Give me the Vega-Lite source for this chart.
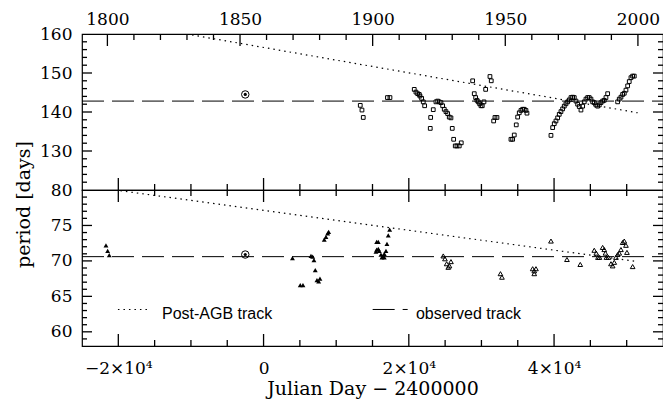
{
  "$schema": "https://vega.github.io/schema/vega-lite/v6.json",
  "padding": {"left": 13, "top": 9, "right": 0, "bottom": 0},
  "spacing": 0,
  "bounds": "flush",
  "background": "white",
  "config": {
    "view": {"stroke": "black", "strokeWidth": 1.2},
    "tick": {"thickness": 1.3, "color": "black", "opacity": 1},
    "axis": {"domain": false, "grid": false, "ticks": false, "labelFont": "DejaVu Serif", "labelFontSize": 17, "labelColor": "black", "titleFont": "DejaVu Serif", "titleFontSize": 19, "titleFontWeight": "normal", "titleColor": "black", "labelOverlap": false, "labelFlush": false}
  },
  "datasets": {
    "squares": [
      {"jd":13315,"p":141.7},{"jd":13549,"p":140.5},{"jd":13728,"p":138.6},{"jd":17060,"p":143.7},{"jd":17404,"p":143.7},
      {"jd":20750,"p":145.8},{"jd":20984,"p":145.1},{"jd":21218,"p":144.7},{"jd":21438,"p":144.5},{"jd":21535,"p":144.1},
      {"jd":21769,"p":143.5},{"jd":21989,"p":142.6},{"jd":22182,"p":141.6},{"jd":22953,"p":135.8},{"jd":23008,"p":138.6},
      {"jd":23366,"p":140.6},{"jd":23738,"p":142.6},{"jd":23972,"p":142.8},{"jd":24192,"p":142.6},{"jd":24426,"p":142.4},
      {"jd":24660,"p":141.6},{"jd":24881,"p":140.7},{"jd":25115,"p":140.1},{"jd":25349,"p":139.6},{"jd":25569,"p":138.7},
      {"jd":25803,"p":138.5},{"jd":25982,"p":135.8},{"jd":26175,"p":133.0},{"jd":26395,"p":131.3},{"jd":26629,"p":131.3},
      {"jd":26946,"p":131.3},{"jd":27221,"p":132.1},{"jd":28791,"p":148.0},{"jd":29011,"p":144.7},{"jd":29204,"p":143.7},
      {"jd":29383,"p":143.0},{"jd":29562,"p":142.6},{"jd":29755,"p":142.1},{"jd":29934,"p":141.6},{"jd":30113,"p":141.6},
      {"jd":30347,"p":142.6},{"jd":30581,"p":145.8},{"jd":31173,"p":149.1},{"jd":31352,"p":148.0},{"jd":31683,"p":137.7},
      {"jd":31862,"p":138.6},{"jd":32137,"p":138.6},{"jd":34065,"p":133.0},{"jd":34298,"p":133.0},{"jd":34519,"p":134.1},
      {"jd":34795,"p":136.7},{"jd":34987,"p":138.7},{"jd":35208,"p":139.8},{"jd":35442,"p":140.4},{"jd":35676,"p":140.7},
      {"jd":35896,"p":140.7},{"jd":36130,"p":140.4},{"jd":36268,"p":139.7},{"jd":39573,"p":134.0},{"jd":39806,"p":136.0},
      {"jd":40027,"p":137.0},{"jd":40261,"p":137.7},{"jd":40495,"p":138.5},{"jd":40715,"p":139.4},{"jd":40949,"p":140.1},
      {"jd":41183,"p":140.8},{"jd":41404,"p":141.5},{"jd":41638,"p":142.1},{"jd":41872,"p":142.6},{"jd":42092,"p":143.1},
      {"jd":42326,"p":143.7},{"jd":42560,"p":143.8},{"jd":42781,"p":143.7},{"jd":43015,"p":142.8},{"jd":43249,"p":142.0},
      {"jd":43469,"p":141.4},{"jd":43703,"p":140.5},{"jd":43937,"p":141.5},{"jd":44158,"p":142.6},{"jd":44392,"p":143.3},
      {"jd":44626,"p":143.7},{"jd":44846,"p":143.7},{"jd":45080,"p":143.3},{"jd":45314,"p":142.6},{"jd":45535,"p":142.4},
      {"jd":45769,"p":141.8},{"jd":46003,"p":141.5},{"jd":46223,"p":141.8},{"jd":46457,"p":142.4},{"jd":46691,"p":142.8},
      {"jd":46911,"p":143.0},{"jd":47145,"p":143.7},{"jd":47379,"p":144.7},{"jd":48756,"p":142.6},{"jd":48976,"p":143.3},
      {"jd":49210,"p":143.8},{"jd":49444,"p":144.5},{"jd":49665,"p":144.8},{"jd":49899,"p":145.6},{"jd":50133,"p":146.7},
      {"jd":50353,"p":147.8},{"jd":50587,"p":148.8},{"jd":50821,"p":149.2},{"jd":51042,"p":149.2}
    ],
    "filled": [
      {"jd":-21700,"p":72.2},{"jd":-21466,"p":71.4},{"jd":-21246,"p":70.8},{"jd":3979,"p":70.4},{"jd":5053,"p":66.6},
      {"jd":5425,"p":66.6},{"jd":6527,"p":70.7},{"jd":6761,"p":70.6},{"jd":6940,"p":70.1},{"jd":7119,"p":68.7},
      {"jd":7353,"p":67.3},{"jd":7587,"p":67.1},{"jd":7766,"p":67.5},{"jd":8358,"p":73.0},{"jd":8592,"p":73.4},
      {"jd":8826,"p":73.9},{"jd":8964,"p":74.1},{"jd":15573,"p":72.7},{"jd":15793,"p":72.7},{"jd":15573,"p":71.6},
      {"jd":15793,"p":71.7},{"jd":15931,"p":71.4},{"jd":15476,"p":71.3},{"jd":16165,"p":70.9},{"jd":16399,"p":70.6},
      {"jd":16303,"p":70.5},{"jd":16619,"p":70.5},{"jd":16619,"p":71.0},{"jd":16853,"p":71.4},{"jd":16991,"p":72.4},
      {"jd":17170,"p":73.6},{"jd":17363,"p":74.4}
    ],
    "open": [
      {"jd":24743,"p":70.7},{"jd":24977,"p":70.3},{"jd":25211,"p":69.6},{"jd":25431,"p":69.1},{"jd":25596,"p":69.3},
      {"jd":25803,"p":69.9},{"jd":32619,"p":68.2},{"jd":32825,"p":67.7},{"jd":37053,"p":68.9},{"jd":37273,"p":68.6},
      {"jd":37507,"p":68.9},{"jd":37273,"p":68.2},{"jd":39573,"p":72.8},{"jd":41776,"p":70.2},{"jd":43607,"p":69.5},
      {"jd":45535,"p":71.5},{"jd":45810,"p":71.1},{"jd":46044,"p":70.5},{"jd":46250,"p":70.5},{"jd":46691,"p":71.9},
      {"jd":46911,"p":71.6},{"jd":47076,"p":71.1},{"jd":47214,"p":70.5},{"jd":47490,"p":70.5},{"jd":47834,"p":69.6},
      {"jd":48068,"p":69.3},{"jd":48288,"p":69.8},{"jd":48522,"p":70.5},{"jd":48756,"p":70.9},{"jd":48976,"p":71.1},
      {"jd":49210,"p":71.6},{"jd":49444,"p":72.6},{"jd":49665,"p":72.8},{"jd":49899,"p":72.2},{"jd":50037,"p":71.2},
      {"jd":50821,"p":69.2}
    ],
    "tracks": [
      {"panel":"top","track":"post","seg":"a","jd":-10590,"p":160},
      {"panel":"top","track":"post","seg":"a","jd":51510,"p":139.8},
      {"panel":"top","track":"obs","seg":"a","jd":-25000,"p":142.8},
      {"panel":"top","track":"obs","seg":"a","jd":55000,"p":142.8},
      {"panel":"bottom","track":"post","seg":"a","jd":-20460,"p":80},
      {"panel":"bottom","track":"post","seg":"a","jd":51510,"p":69.9},
      {"panel":"bottom","track":"obs","seg":"a","jd":-25000,"p":70.6},
      {"panel":"bottom","track":"obs","seg":"a","jd":55000,"p":70.6},
      {"panel":"bottom","track":"post","seg":"key","jd":-20050,"p":63.15},
      {"panel":"bottom","track":"post","seg":"key","jd":-15780,"p":63.15},
      {"panel":"bottom","track":"obs","seg":"key","jd":15022,"p":63.15},
      {"panel":"bottom","track":"obs","seg":"key","jd":19841,"p":63.15}
    ],
    "sun": [
      {"panel":"top","jd":-2520,"p":144.5},
      {"panel":"bottom","jd":-2520,"p":70.9}
    ],
    "keytext": [
      {"jd":-13990,"p":61.8,"label":"Post-AGB track"},
      {"jd":20984,"p":61.8,"label":"observed track"}
    ],
    "jdticks": [
      {"jd":-20000,"kind":"major"},{"jd":-15000,"kind":"minor"},{"jd":-10000,"kind":"minor"},{"jd":-5000,"kind":"minor"},
      {"jd":0,"kind":"major"},{"jd":5000,"kind":"minor"},{"jd":10000,"kind":"minor"},{"jd":15000,"kind":"minor"},
      {"jd":20000,"kind":"major"},{"jd":25000,"kind":"minor"},{"jd":30000,"kind":"minor"},{"jd":35000,"kind":"minor"},
      {"jd":40000,"kind":"major"},{"jd":45000,"kind":"minor"},{"jd":50000,"kind":"minor"}
    ],
    "yearticks": [
      {"year":1800,"jd":-21503.7,"kind":"major"},{"year":1810,"jd":-17851.2,"kind":"minor"},{"year":1820,"jd":-14198.7,"kind":"minor"},
      {"year":1830,"jd":-10546.2,"kind":"minor"},{"year":1840,"jd":-6893.7,"kind":"minor"},{"year":1850,"jd":-3241.2,"kind":"major"},
      {"year":1860,"jd":411.3,"kind":"minor"},{"year":1870,"jd":4063.8,"kind":"minor"},{"year":1880,"jd":7716.3,"kind":"minor"},
      {"year":1890,"jd":11368.8,"kind":"minor"},{"year":1900,"jd":15021.3,"kind":"major"},{"year":1910,"jd":18673.8,"kind":"minor"},
      {"year":1920,"jd":22326.3,"kind":"minor"},{"year":1930,"jd":25978.8,"kind":"minor"},{"year":1940,"jd":29631.3,"kind":"minor"},
      {"year":1950,"jd":33283.8,"kind":"major"},{"year":1960,"jd":36936.3,"kind":"minor"},{"year":1970,"jd":40588.8,"kind":"minor"},
      {"year":1980,"jd":44241.3,"kind":"minor"},{"year":1990,"jd":47893.8,"kind":"minor"},{"year":2000,"jd":51546.3,"kind":"major"}
    ],
    "ptickstop": [
      {"p":122,"kind":"minor"},{"p":124,"kind":"minor"},{"p":126,"kind":"minor"},{"p":128,"kind":"minor"},{"p":130,"kind":"major"},
      {"p":132,"kind":"minor"},{"p":134,"kind":"minor"},{"p":136,"kind":"minor"},{"p":138,"kind":"minor"},{"p":140,"kind":"major"},
      {"p":142,"kind":"minor"},{"p":144,"kind":"minor"},{"p":146,"kind":"minor"},{"p":148,"kind":"minor"},{"p":150,"kind":"major"},
      {"p":152,"kind":"minor"},{"p":154,"kind":"minor"},{"p":156,"kind":"minor"},{"p":158,"kind":"minor"}
    ],
    "pticksbottom": [
      {"p":59,"kind":"minor"},{"p":60,"kind":"major"},{"p":61,"kind":"minor"},{"p":62,"kind":"minor"},{"p":63,"kind":"minor"},
      {"p":64,"kind":"minor"},{"p":65,"kind":"major"},{"p":66,"kind":"minor"},{"p":67,"kind":"minor"},{"p":68,"kind":"minor"},
      {"p":69,"kind":"minor"},{"p":70,"kind":"major"},{"p":71,"kind":"minor"},{"p":72,"kind":"minor"},{"p":73,"kind":"minor"},
      {"p":74,"kind":"minor"},{"p":75,"kind":"major"},{"p":76,"kind":"minor"},{"p":77,"kind":"minor"},{"p":78,"kind":"minor"},
      {"p":79,"kind":"minor"}
    ]
  },
  "vconcat": [
    {
      "width": 581,
      "height": 156,
      "resolve": {"axis": {"x": "independent", "y": "independent"}},
      "layer": [
        {
          "data": {"name": "tracks"},
          "transform": [{"filter": "datum.panel == 'top' && datum.track == 'obs'"}],
          "mark": {"type": "line", "color": "black", "strokeWidth": 1, "strokeDash": [22, 8], "clip": true},
          "encoding": {
            "x": {"field": "jd", "type": "quantitative", "scale": {"domain": [-25000, 55000], "nice": false, "zero": false}, "axis": null},
            "y": {"field": "p", "type": "quantitative", "scale": {"domain": [120, 160], "nice": false, "zero": false},
              "axis": {"orient": "left", "values": [130, 140, 150, 160], "labelPadding": 10,
                "title": "period [days]", "titleX": -53, "titleY": 170, "titleAngle": 270, "titleAlign": "center", "titleBaseline": "alphabetic"}},
            "detail": {"field": "seg"}
          }
        },
        {
          "data": {"name": "tracks"},
          "transform": [{"filter": "datum.panel == 'top' && datum.track == 'post'"}],
          "mark": {"type": "line", "color": "black", "strokeWidth": 1.2, "strokeDash": [1.5, 4], "clip": true},
          "encoding": {
            "x": {"field": "jd", "type": "quantitative", "scale": {"domain": [-25000, 55000], "nice": false, "zero": false},
              "axis": {"orient": "top", "values": [-21503.7, -3241.2, 15021.3, 33283.8, 51546.3], "labelPadding": 6, "title": null,
                "labelExpr": "'' + round(1858.874 + datum.value / 365.25)"}},
            "y": {"field": "p", "type": "quantitative", "scale": {"domain": [120, 160], "nice": false, "zero": false}, "axis": null},
            "detail": {"field": "seg"}
          }
        },
        {
          "data": {"name": "squares"},
          "mark": {"type": "point", "shape": "square", "filled": false, "size": 14, "stroke": "black", "strokeWidth": 1, "opacity": 1},
          "encoding": {
            "x": {"field": "jd", "type": "quantitative", "scale": {"domain": [-25000, 55000], "nice": false, "zero": false}, "axis": null},
            "y": {"field": "p", "type": "quantitative", "scale": {"domain": [120, 160], "nice": false, "zero": false}, "axis": null}
          }
        },
        {
          "data": {"name": "sun"},
          "transform": [{"filter": "datum.panel == 'top'"}],
          "mark": {"type": "point", "shape": "circle", "filled": false, "size": 56, "stroke": "black", "strokeWidth": 1, "opacity": 1},
          "encoding": {
            "x": {"field": "jd", "type": "quantitative", "scale": {"domain": [-25000, 55000], "nice": false, "zero": false}, "axis": null},
            "y": {"field": "p", "type": "quantitative", "scale": {"domain": [120, 160], "nice": false, "zero": false}, "axis": null}
          }
        },
        {
          "data": {"name": "sun"},
          "transform": [{"filter": "datum.panel == 'top'"}],
          "mark": {"type": "point", "shape": "circle", "filled": true, "size": 10, "fill": "black", "opacity": 1},
          "encoding": {
            "x": {"field": "jd", "type": "quantitative", "scale": {"domain": [-25000, 55000], "nice": false, "zero": false}, "axis": null},
            "y": {"field": "p", "type": "quantitative", "scale": {"domain": [120, 160], "nice": false, "zero": false}, "axis": null}
          }
        },
        {
          "data": {"name": "jdticks"},
          "transform": [{"filter": "datum.kind == 'major'"}],
          "mark": {"type": "tick", "orient": "vertical", "size": 12, "yOffset": -6},
          "encoding": {
            "x": {"field": "jd", "type": "quantitative", "scale": {"domain": [-25000, 55000], "nice": false, "zero": false}, "axis": null},
            "y": {"datum": 120, "type": "quantitative", "scale": {"domain": [120, 160], "nice": false, "zero": false}, "axis": null}
          }
        },
        {
          "data": {"name": "jdticks"},
          "transform": [{"filter": "datum.kind == 'minor'"}],
          "mark": {"type": "tick", "orient": "vertical", "size": 6, "yOffset": -3},
          "encoding": {
            "x": {"field": "jd", "type": "quantitative", "scale": {"domain": [-25000, 55000], "nice": false, "zero": false}, "axis": null},
            "y": {"datum": 120, "type": "quantitative", "scale": {"domain": [120, 160], "nice": false, "zero": false}, "axis": null}
          }
        },
        {
          "data": {"name": "yearticks"},
          "transform": [{"filter": "datum.kind == 'major'"}],
          "mark": {"type": "tick", "orient": "vertical", "size": 12, "yOffset": 6},
          "encoding": {
            "x": {"field": "jd", "type": "quantitative", "scale": {"domain": [-25000, 55000], "nice": false, "zero": false}, "axis": null},
            "y": {"datum": 160, "type": "quantitative", "scale": {"domain": [120, 160], "nice": false, "zero": false}, "axis": null}
          }
        },
        {
          "data": {"name": "yearticks"},
          "transform": [{"filter": "datum.kind == 'minor'"}],
          "mark": {"type": "tick", "orient": "vertical", "size": 6, "yOffset": 3},
          "encoding": {
            "x": {"field": "jd", "type": "quantitative", "scale": {"domain": [-25000, 55000], "nice": false, "zero": false}, "axis": null},
            "y": {"datum": 160, "type": "quantitative", "scale": {"domain": [120, 160], "nice": false, "zero": false}, "axis": null}
          }
        },
        {
          "data": {"name": "ptickstop"},
          "transform": [{"filter": "datum.kind == 'major'"}],
          "mark": {"type": "tick", "orient": "horizontal", "size": 10, "xOffset": 5},
          "encoding": {
            "x": {"datum": -25000, "type": "quantitative", "scale": {"domain": [-25000, 55000], "nice": false, "zero": false}, "axis": null},
            "y": {"field": "p", "type": "quantitative", "scale": {"domain": [120, 160], "nice": false, "zero": false}, "axis": null}
          }
        },
        {
          "data": {"name": "ptickstop"},
          "transform": [{"filter": "datum.kind == 'minor'"}],
          "mark": {"type": "tick", "orient": "horizontal", "size": 5, "xOffset": 2.5},
          "encoding": {
            "x": {"datum": -25000, "type": "quantitative", "scale": {"domain": [-25000, 55000], "nice": false, "zero": false}, "axis": null},
            "y": {"field": "p", "type": "quantitative", "scale": {"domain": [120, 160], "nice": false, "zero": false}, "axis": null}
          }
        },
        {
          "data": {"name": "ptickstop"},
          "transform": [{"filter": "datum.kind == 'major'"}],
          "mark": {"type": "tick", "orient": "horizontal", "size": 10, "xOffset": -5},
          "encoding": {
            "x": {"datum": 55000, "type": "quantitative", "scale": {"domain": [-25000, 55000], "nice": false, "zero": false}, "axis": null},
            "y": {"field": "p", "type": "quantitative", "scale": {"domain": [120, 160], "nice": false, "zero": false}, "axis": null}
          }
        },
        {
          "data": {"name": "ptickstop"},
          "transform": [{"filter": "datum.kind == 'minor'"}],
          "mark": {"type": "tick", "orient": "horizontal", "size": 5, "xOffset": -2.5},
          "encoding": {
            "x": {"datum": 55000, "type": "quantitative", "scale": {"domain": [-25000, 55000], "nice": false, "zero": false}, "axis": null},
            "y": {"field": "p", "type": "quantitative", "scale": {"domain": [120, 160], "nice": false, "zero": false}, "axis": null}
          }
        }
      ]
    },
    {
      "width": 581,
      "height": 156,
      "resolve": {"axis": {"x": "independent", "y": "independent"}},
      "layer": [
        {
          "data": {"name": "tracks"},
          "transform": [{"filter": "datum.panel == 'bottom' && datum.track == 'obs'"}],
          "mark": {"type": "line", "color": "black", "strokeWidth": 1, "strokeDash": [22, 8], "clip": true},
          "encoding": {
            "x": {"field": "jd", "type": "quantitative", "scale": {"domain": [-25000, 55000], "nice": false, "zero": false},
              "axis": {"orient": "bottom", "values": [-20000, 0, 20000, 40000], "labelPadding": 14,
                "labelExpr": "datum.value == 0 ? '0' : (datum.value < 0 ? '−' : '') + (abs(datum.value) / 10000) + '×10⁴'",
                "title": "Julian Day   −  2400000", "titleY": 33, "titleBaseline": "top", "titleFontSize": 19}},
            "y": {"field": "p", "type": "quantitative", "scale": {"domain": [58, 80], "nice": false, "zero": false},
              "axis": {"orient": "left", "values": [60, 65, 70, 75, 80], "labelPadding": 10, "title": null}},
            "detail": {"field": "seg"}
          }
        },
        {
          "data": {"name": "tracks"},
          "transform": [{"filter": "datum.panel == 'bottom' && datum.track == 'post'"}],
          "mark": {"type": "line", "color": "black", "strokeWidth": 1.2, "strokeDash": [1.5, 4], "clip": true},
          "encoding": {
            "x": {"field": "jd", "type": "quantitative", "scale": {"domain": [-25000, 55000], "nice": false, "zero": false}, "axis": null},
            "y": {"field": "p", "type": "quantitative", "scale": {"domain": [58, 80], "nice": false, "zero": false}, "axis": null},
            "detail": {"field": "seg"}
          }
        },
        {
          "data": {"name": "filled"},
          "mark": {"type": "point", "shape": "triangle-up", "filled": true, "size": 24, "fill": "black", "opacity": 1},
          "encoding": {
            "x": {"field": "jd", "type": "quantitative", "scale": {"domain": [-25000, 55000], "nice": false, "zero": false}, "axis": null},
            "y": {"field": "p", "type": "quantitative", "scale": {"domain": [58, 80], "nice": false, "zero": false}, "axis": null}
          }
        },
        {
          "data": {"name": "open"},
          "mark": {"type": "point", "shape": "triangle-up", "filled": false, "size": 22, "stroke": "black", "strokeWidth": 1, "opacity": 1},
          "encoding": {
            "x": {"field": "jd", "type": "quantitative", "scale": {"domain": [-25000, 55000], "nice": false, "zero": false}, "axis": null},
            "y": {"field": "p", "type": "quantitative", "scale": {"domain": [58, 80], "nice": false, "zero": false}, "axis": null}
          }
        },
        {
          "data": {"name": "sun"},
          "transform": [{"filter": "datum.panel == 'bottom'"}],
          "mark": {"type": "point", "shape": "circle", "filled": false, "size": 56, "stroke": "black", "strokeWidth": 1, "opacity": 1},
          "encoding": {
            "x": {"field": "jd", "type": "quantitative", "scale": {"domain": [-25000, 55000], "nice": false, "zero": false}, "axis": null},
            "y": {"field": "p", "type": "quantitative", "scale": {"domain": [58, 80], "nice": false, "zero": false}, "axis": null}
          }
        },
        {
          "data": {"name": "sun"},
          "transform": [{"filter": "datum.panel == 'bottom'"}],
          "mark": {"type": "point", "shape": "circle", "filled": true, "size": 10, "fill": "black", "opacity": 1},
          "encoding": {
            "x": {"field": "jd", "type": "quantitative", "scale": {"domain": [-25000, 55000], "nice": false, "zero": false}, "axis": null},
            "y": {"field": "p", "type": "quantitative", "scale": {"domain": [58, 80], "nice": false, "zero": false}, "axis": null}
          }
        },
        {
          "data": {"name": "keytext"},
          "mark": {"type": "text", "align": "left", "baseline": "alphabetic", "font": "Liberation Sans", "fontSize": 16, "color": "black"},
          "encoding": {
            "x": {"field": "jd", "type": "quantitative", "scale": {"domain": [-25000, 55000], "nice": false, "zero": false}, "axis": null},
            "y": {"field": "p", "type": "quantitative", "scale": {"domain": [58, 80], "nice": false, "zero": false}, "axis": null},
            "text": {"field": "label"}
          }
        },
        {
          "data": {"name": "jdticks"},
          "transform": [{"filter": "datum.kind == 'major'"}],
          "mark": {"type": "tick", "orient": "vertical", "size": 12, "yOffset": -6},
          "encoding": {
            "x": {"field": "jd", "type": "quantitative", "scale": {"domain": [-25000, 55000], "nice": false, "zero": false}, "axis": null},
            "y": {"datum": 58, "type": "quantitative", "scale": {"domain": [58, 80], "nice": false, "zero": false}, "axis": null}
          }
        },
        {
          "data": {"name": "jdticks"},
          "transform": [{"filter": "datum.kind == 'minor'"}],
          "mark": {"type": "tick", "orient": "vertical", "size": 6, "yOffset": -3},
          "encoding": {
            "x": {"field": "jd", "type": "quantitative", "scale": {"domain": [-25000, 55000], "nice": false, "zero": false}, "axis": null},
            "y": {"datum": 58, "type": "quantitative", "scale": {"domain": [58, 80], "nice": false, "zero": false}, "axis": null}
          }
        },
        {
          "data": {"name": "jdticks"},
          "transform": [{"filter": "datum.kind == 'major'"}],
          "mark": {"type": "tick", "orient": "vertical", "size": 12, "yOffset": 6},
          "encoding": {
            "x": {"field": "jd", "type": "quantitative", "scale": {"domain": [-25000, 55000], "nice": false, "zero": false}, "axis": null},
            "y": {"datum": 80, "type": "quantitative", "scale": {"domain": [58, 80], "nice": false, "zero": false}, "axis": null}
          }
        },
        {
          "data": {"name": "jdticks"},
          "transform": [{"filter": "datum.kind == 'minor'"}],
          "mark": {"type": "tick", "orient": "vertical", "size": 6, "yOffset": 3},
          "encoding": {
            "x": {"field": "jd", "type": "quantitative", "scale": {"domain": [-25000, 55000], "nice": false, "zero": false}, "axis": null},
            "y": {"datum": 80, "type": "quantitative", "scale": {"domain": [58, 80], "nice": false, "zero": false}, "axis": null}
          }
        },
        {
          "data": {"name": "pticksbottom"},
          "transform": [{"filter": "datum.kind == 'major'"}],
          "mark": {"type": "tick", "orient": "horizontal", "size": 10, "xOffset": 5},
          "encoding": {
            "x": {"datum": -25000, "type": "quantitative", "scale": {"domain": [-25000, 55000], "nice": false, "zero": false}, "axis": null},
            "y": {"field": "p", "type": "quantitative", "scale": {"domain": [58, 80], "nice": false, "zero": false}, "axis": null}
          }
        },
        {
          "data": {"name": "pticksbottom"},
          "transform": [{"filter": "datum.kind == 'minor'"}],
          "mark": {"type": "tick", "orient": "horizontal", "size": 5, "xOffset": 2.5},
          "encoding": {
            "x": {"datum": -25000, "type": "quantitative", "scale": {"domain": [-25000, 55000], "nice": false, "zero": false}, "axis": null},
            "y": {"field": "p", "type": "quantitative", "scale": {"domain": [58, 80], "nice": false, "zero": false}, "axis": null}
          }
        },
        {
          "data": {"name": "pticksbottom"},
          "transform": [{"filter": "datum.kind == 'major'"}],
          "mark": {"type": "tick", "orient": "horizontal", "size": 10, "xOffset": -5},
          "encoding": {
            "x": {"datum": 55000, "type": "quantitative", "scale": {"domain": [-25000, 55000], "nice": false, "zero": false}, "axis": null},
            "y": {"field": "p", "type": "quantitative", "scale": {"domain": [58, 80], "nice": false, "zero": false}, "axis": null}
          }
        },
        {
          "data": {"name": "pticksbottom"},
          "transform": [{"filter": "datum.kind == 'minor'"}],
          "mark": {"type": "tick", "orient": "horizontal", "size": 5, "xOffset": -2.5},
          "encoding": {
            "x": {"datum": 55000, "type": "quantitative", "scale": {"domain": [-25000, 55000], "nice": false, "zero": false}, "axis": null},
            "y": {"field": "p", "type": "quantitative", "scale": {"domain": [58, 80], "nice": false, "zero": false}, "axis": null}
          }
        }
      ]
    }
  ]
}
